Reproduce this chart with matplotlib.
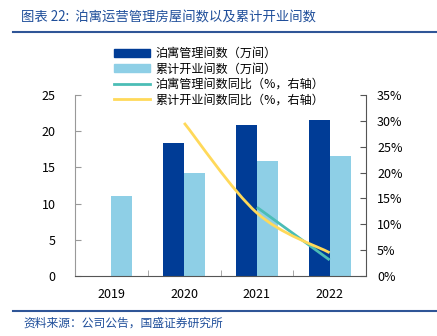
import numpy as np
import matplotlib.pyplot as plt
from matplotlib.path import Path
from matplotlib.patches import PathPatch
from matplotlib.lines import Line2D
from matplotlib.patches import Patch

plt.rcParams['font.family'] = ['Noto Sans CJK SC', 'DejaVu Sans']

# data
years = ['2019', '2020', '2021', '2022']
managed = [np.nan, 18.4, 20.8, 21.5]      # 泊寓管理间数（万间）
opened = [11.0, 14.2, 15.9, 16.6]         # 累计开业间数（万间）
managed_yoy = [np.nan, np.nan, 13.3, 3.1] # 同比 %
opened_yoy = [np.nan, 29.6, 12.2, 4.5]    # 同比 %

dark = '#003C96'
light = '#8ECFE6'
teal = '#4BBDB6'
yellow = '#FFD95A'
title_blue = '#1F4E9A'

fig = plt.figure(figsize=(4.37, 3.36), dpi=100)
ax = fig.add_axes([75/437, 1 - 276/336, 291/437, 181/336])
ax2 = ax.twinx()

x = np.arange(len(years))
w = 0.29
ax.bar(x - w/2, managed, w, color=dark)
ax.bar(x + w/2, opened, w, color=light)


def smooth_path(xs, ys):
    # smoothed line like Excel's (Catmull-Rom -> cubic Bezier)
    pts = [(a, b) for a, b in zip(xs, ys) if not np.isnan(b)]
    pts = np.array(pts, dtype=float)
    verts = [pts[0]]
    codes = [Path.MOVETO]
    n = len(pts)
    for i in range(n - 1):
        p0 = pts[i - 1] if i > 0 else pts[i]
        p1 = pts[i]
        p2 = pts[i + 1]
        p3 = pts[i + 2] if i + 2 < n else pts[i + 1]
        c1 = p1 + (p2 - p0) / 6
        c2 = p2 - (p3 - p1) / 6
        verts += [c1, c2, p2]
        codes += [Path.CURVE4] * 3
    return Path(verts, codes)


ax2.add_patch(PathPatch(smooth_path(x, managed_yoy), fill=False,
                        edgecolor=teal, lw=2))
ax2.add_patch(PathPatch(smooth_path(x, opened_yoy), fill=False,
                        edgecolor=yellow, lw=2))

ax.set_xlim(-0.5, 3.5)
ax.set_ylim(0, 25)
ax2.set_ylim(0, 35)
ax.set_yticks(range(0, 26, 5))
ax2.set_yticks(range(0, 36, 5))
ax2.set_yticklabels([f'{v}%' for v in range(0, 36, 5)])

ax.set_xticks(x)
ax.set_xticklabels(years)
ax.set_xticks(np.arange(-0.5, 3.6, 1), minor=True)
ax.tick_params(axis='x', which='major', length=0, pad=9, labelsize=9)
ax.tick_params(axis='x', which='minor', direction='in', length=4, color='#999999')
ax.tick_params(axis='y', direction='in', length=4, color='#999999', labelsize=9, pad=14)
ax2.tick_params(axis='y', direction='in', length=4, color='#555555', labelsize=9, pad=8)

for a in (ax, ax2):
    a.spines['top'].set_visible(False)
ax.spines['right'].set_visible(False)
ax2.spines['left'].set_visible(False)
ax2.spines['bottom'].set_visible(False)
ax.spines['left'].set_color('#999999')
ax.spines['bottom'].set_color('#555555')
ax2.spines['right'].set_color('#555555')

handles = [
    Patch(color=dark, label='泊寓管理间数（万间）'),
    Patch(color=light, label='累计开业间数（万间）'),
    Line2D([], [], color=teal, lw=2, label='泊寓管理间数同比（%，右轴）'),
    Line2D([], [], color=yellow, lw=2, label='累计开业间数同比（%，右轴）'),
]
fig.legend(handles=handles, loc='upper left', bbox_to_anchor=(114/437, 1 - 47/336),
           frameon=False, fontsize=8.7, handlelength=3.0, handleheight=0.6,
           handletextpad=0.4, labelspacing=0.2, borderaxespad=0, borderpad=0)

fig.text(21/437, 1 - 17/336, '图表 22:  泊寓运营管理房屋间数以及累计开业间数',
         color=title_blue, fontsize=9.6, style='italic', va='center')
fig.add_artist(Line2D([13/437, 1], [1 - 32/336] * 2, color='#2F5597', lw=1.5))
fig.add_artist(Line2D([13/437, 1], [1 - 311/336] * 2, color='#2F5597', lw=1.5))
fig.text(23/437, 1 - 323/336, '资料来源：公司公告，国盛证券研究所',
         color=title_blue, fontsize=8.5, style='italic', va='center')

fig.savefig('out.png', dpi=100)
